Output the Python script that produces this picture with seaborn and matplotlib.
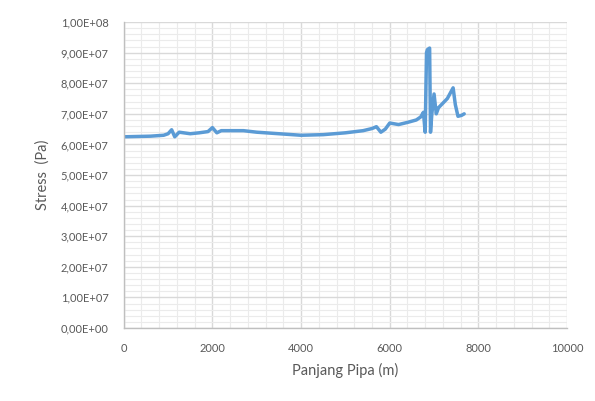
import pandas as pd
import matplotlib.pyplot as plt
import seaborn as sns
from matplotlib.ticker import MultipleLocator, FuncFormatter

# values
panjang = [0, 300, 600, 900, 1000, 1080, 1150, 1250, 1350, 1500, 1700, 1900, 2000,
           2100, 2200, 2400, 2700, 3000, 3500, 4000, 4500, 5000, 5400, 5600, 5700,
           5800, 5900, 6000, 6200, 6400, 6600, 6700, 6760, 6800, 6830, 6850, 6900,
           6920, 6950, 7000, 7050, 7100, 7200, 7300, 7430, 7480, 7540, 7620, 7680]
stress = [6.25e7, 6.26e7, 6.27e7, 6.3e7, 6.35e7, 6.48e7, 6.25e7, 6.4e7, 6.38e7, 6.35e7,
          6.38e7, 6.42e7, 6.55e7, 6.38e7, 6.45e7, 6.45e7, 6.45e7, 6.4e7, 6.35e7, 6.3e7,
          6.32e7, 6.38e7, 6.45e7, 6.52e7, 6.58e7, 6.4e7, 6.5e7, 6.7e7, 6.65e7, 6.72e7,
          6.8e7, 6.9e7, 7.05e7, 6.4e7, 9.0e7, 9.1e7, 9.15e7, 6.4e7, 7.0e7, 7.65e7,
          7.0e7, 7.2e7, 7.35e7, 7.5e7, 7.85e7, 7.3e7, 6.92e7, 6.95e7, 7.0e7]

df = pd.DataFrame({"Panjang": panjang, "Stress": stress})

sns.set_style("white")
plt.rcParams['font.family'] = ['Lato', 'DejaVu Sans']

fig = plt.figure(figsize=(5.95, 4.01), dpi=100)
ax = fig.add_axes([0.208, 0.182, 0.745, 0.763])

sns.lineplot(data=df, x="Panjang", y="Stress", ax=ax, color="#5B9BD5",
             linewidth=2.5, sort=False)

ax.set_xlim(0, 10000)
ax.set_ylim(0, 1e8)
ax.xaxis.set_major_locator(MultipleLocator(2000))
ax.xaxis.set_minor_locator(MultipleLocator(400))
ax.yaxis.set_major_locator(MultipleLocator(1e7))
ax.yaxis.set_minor_locator(MultipleLocator(2e6))
ax.yaxis.set_major_formatter(FuncFormatter(lambda v, p: f"{v:.2E}".replace('.', ',')))

ax.grid(True, which="major", color="#d9d9d9", linewidth=1.0)
ax.grid(True, which="minor", color="#ebebeb", linewidth=0.8)
ax.set_axisbelow(True)

for s in ["top", "right"]:
    ax.spines[s].set_visible(False)
for s in ["left", "bottom"]:
    ax.spines[s].set_color("#bfbfbf")
    ax.spines[s].set_linewidth(1.0)

ax.tick_params(axis="both", which="major", length=5, color="#bfbfbf",
               labelsize=8, labelcolor="#595959", pad=6)
ax.tick_params(axis="both", which="minor", length=0)

ax.set_xlabel("Panjang Pipa (m)", fontsize=10.5, color="#595959", labelpad=6)
ax.set_ylabel("Stress  (Pa)", fontsize=10.5, color="#595959", labelpad=8)

plt.savefig("out.png", dpi=100)
